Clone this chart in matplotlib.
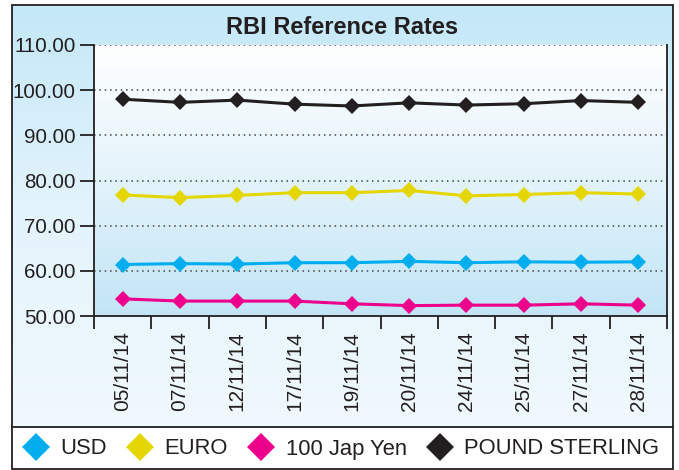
import numpy as np
import matplotlib
matplotlib.use('Agg')
import matplotlib.pyplot as plt
from matplotlib.patches import Rectangle
from matplotlib.lines import Line2D
from matplotlib.colors import LinearSegmentedColormap

plt.rcParams['font.family'] = ['Liberation Sans', 'DejaVu Sans']

# Dados
dates = ['05/11/14', '07/11/14', '12/11/14', '17/11/14', '19/11/14',
         '20/11/14', '24/11/14', '25/11/14', '27/11/14', '28/11/14']
usd = [61.4, 61.6, 61.5, 61.8, 61.8, 62.1, 61.8, 62.0, 61.9, 62.0]
euro = [76.8, 76.2, 76.7, 77.3, 77.3, 77.8, 76.6, 76.9, 77.3, 77.0]
yen = [53.8, 53.3, 53.3, 53.3, 52.7, 52.3, 52.4, 52.4, 52.7, 52.4]
pound = [98.0, 97.3, 97.8, 96.9, 96.5, 97.2, 96.7, 97.0, 97.7, 97.3]
y_ticks = [50, 60, 70, 80, 90, 100, 110]

series = [('USD', usd, '#00aeef'),
          ('EURO', euro, '#e6d600'),
          ('100 Jap Yen', yen, '#ec008c'),
          ('POUND STERLING', pound, '#231f20')]

W, H = 679, 470
fig = plt.figure(figsize=(W / 100, H / 100), dpi=100)
fig.patch.set_facecolor('white')

# fundo externo com gradiente (caixa ate a linha da legenda)
bx0, bx1, by_top, by_sep, by_bot = 12, 673, 5, 427, 469
bg = fig.add_axes([bx0 / W, (H - by_sep) / H, (bx1 - bx0) / W, (by_sep - by_top) / H])
bg.set_zorder(-2)
grad = np.linspace(0, 1, 256).reshape(-1, 1)
cm_out = LinearSegmentedColormap.from_list('out', ['#c4e8f8', '#e4f4fc', '#f0f9fd'])
bg.imshow(grad, aspect='auto', cmap=cm_out, extent=[0, 1, 0, 1], origin='upper')
bg.set_axis_off()

# borda externa e linha separadora da legenda
fig.patches.append(Rectangle((bx0 / W, (H - by_bot) / H), (bx1 - bx0) / W,
                             (by_bot - by_top) / H, transform=fig.transFigure,
                             fill=False, edgecolor='#231f20', linewidth=1.3, zorder=5))
fig.lines.append(Line2D([bx0 / W, bx1 / W], [(H - by_sep) / H] * 2,
                        transform=fig.transFigure, color='#231f20', linewidth=1.3))

# area do grafico
px0, px1, py_top, py_bot = 94, 667, 45, 316
ax = fig.add_axes([px0 / W, (H - py_bot) / H, (px1 - px0) / W, (py_bot - py_top) / H])
cm_in = LinearSegmentedColormap.from_list('in', ['#ffffff', '#e3f3fb', '#c2e5f6'])
x = np.arange(len(dates))
ax.imshow(grad, aspect='auto', cmap=cm_in, extent=[-0.5, len(dates) - 0.5, 50, 110],
          origin='upper', zorder=0)

for yv in y_ticks[1:]:
    ax.axhline(yv, color='#444444', linestyle=(0, (1, 2.5)), linewidth=1.1, zorder=1)

for name, vals, col in series:
    ax.plot(x, vals, color=col, linewidth=2.2, marker='D', markersize=8.5,
            markeredgewidth=0, label=name, zorder=3)

ax.set_xlim(-0.5, len(dates) - 0.5)
ax.set_ylim(50, 110)
ax.set_yticks(y_ticks)
ax.set_yticklabels(['%.2f' % v for v in y_ticks])
ax.set_xticks(np.arange(len(dates) + 1) - 0.5, minor=False)
ax.set_xticklabels([])
ax.set_xticks(x, minor=True)
ax.set_xticklabels(dates, minor=True, rotation=90)
ax.tick_params(axis='x', which='major', length=9, width=1.3, color='#231f20')
ax.tick_params(axis='x', which='minor', length=0, pad=11, labelsize=15,
               labelcolor='#231f20')
ax.tick_params(axis='y', length=10, width=1.3, color='#231f20', pad=3,
               labelsize=14.8, labelcolor='#231f20')

for side in ['left', 'bottom', 'right']:
    ax.spines[side].set_color('#231f20')
    ax.spines[side].set_linewidth(1.3)
ax.spines['top'].set_visible(False)

fig.text(342 / W, 1 - 27 / H, 'RBI Reference Rates', ha='center', va='center',
         fontsize=17, fontweight='bold', color='#231f20')

handles = [Line2D([], [], linestyle='none', marker='D', markersize=14,
                  markeredgewidth=0, color=col) for _, _, col in series]
fig.legend(handles, [s[0] for s in series], loc='center',
           bbox_to_anchor=(342 / W, 1 - 449 / H), ncol=4, frameon=False,
           fontsize=15.8, handlelength=1.0, handletextpad=0.63,
           columnspacing=1.0, labelcolor='#231f20')

fig.savefig('out.png', dpi=100)
